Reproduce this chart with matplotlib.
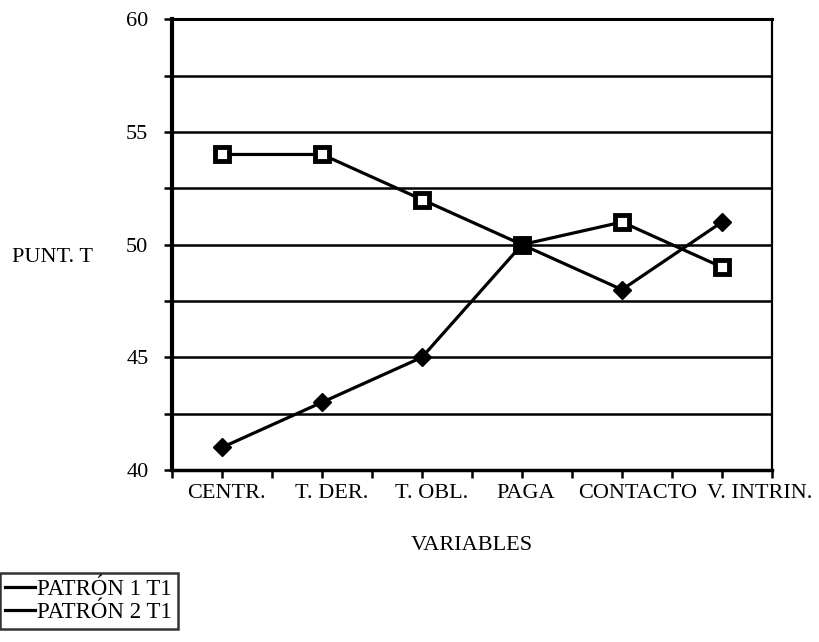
import matplotlib
matplotlib.use("agg")
import matplotlib.pyplot as plt
from matplotlib.ticker import MultipleLocator
from matplotlib.transforms import ScaledTranslation

# data
categories = ["CENTR.", "T. DER.", "T. OBL.", "PAGA", "CONTACTO", "V. INTRIN."]
patron1 = [54, 54, 52, 50, 51, 49]   # square markers
patron2 = [41, 43, 45, 50, 48, 51]   # diamond markers
labels = ["PATRÓN 1 T1", "PATRÓN 2 T1"]

# the scanned labels drift to the right a little (pixels)
label_shift = [4, 10, 10, 4, 16, 38]

plt.rcParams["font.family"] = ["Liberation Serif", "DejaVu Serif"]
plt.rcParams["font.size"] = 16

fig = plt.figure(figsize=(8.19, 6.42), dpi=100)
ax = fig.add_axes([0.21, 0.268, 0.7326, 0.702])

x = list(range(len(categories)))
ax.plot(x, patron1, color="black", lw=2.3, marker="s", ms=10,
        mfc="white", mec="black", mew=3.5, label=labels[0], zorder=3)
ax.plot(x, patron2, color="black", lw=2.3, marker="D", ms=9,
        mfc="black", mec="black", label=labels[1], zorder=3)

ax.set_xlim(-0.5, len(categories) - 0.5)
ax.set_ylim(40, 60)
ax.set_yticks([40, 45, 50, 55, 60])
ax.yaxis.set_minor_locator(MultipleLocator(2.5))
ax.set_xticks(x)
ax.set_xticklabels(categories)
ax.xaxis.set_minor_locator(MultipleLocator(0.5))

ax.grid(axis="y", which="both", color="black", lw=1.8)
ax.tick_params(axis="y", which="both", direction="out", length=6, width=1.8, pad=11)
ax.tick_params(axis="x", which="both", direction="out", length=6, width=1.8, pad=4)

for lbl, dx in zip(ax.get_xticklabels(), label_shift):
    lbl.set_transform(lbl.get_transform() + ScaledTranslation(dx / 100, 0, fig.dpi_scale_trans))

for side, w in (("left", 3.0), ("bottom", 2.5), ("top", 2.2), ("right", 1.6)):
    ax.spines[side].set_linewidth(w)

ax.set_xlabel("VARIABLES", labelpad=24)
ax.set_ylabel("PUNT. T", rotation=0, ha="right", va="center")
ax.yaxis.set_label_coords(-0.132, 0.472)

leg = fig.legend(handles=[ax.lines[0], ax.lines[1]], labels=labels,
                 loc="upper right", bbox_to_anchor=(0.2173, 0.1075),
                 fontsize=16.5, frameon=True, fancybox=False, handlelength=1.3,
                 handletextpad=0.1, borderpad=0.25, labelspacing=0.1,
                 borderaxespad=0)
for h in leg.legend_handles:
    h.set_marker("")
leg.get_frame().set_edgecolor("black")
leg.get_frame().set_linewidth(1.8)

fig.savefig("out.png", dpi=100)
